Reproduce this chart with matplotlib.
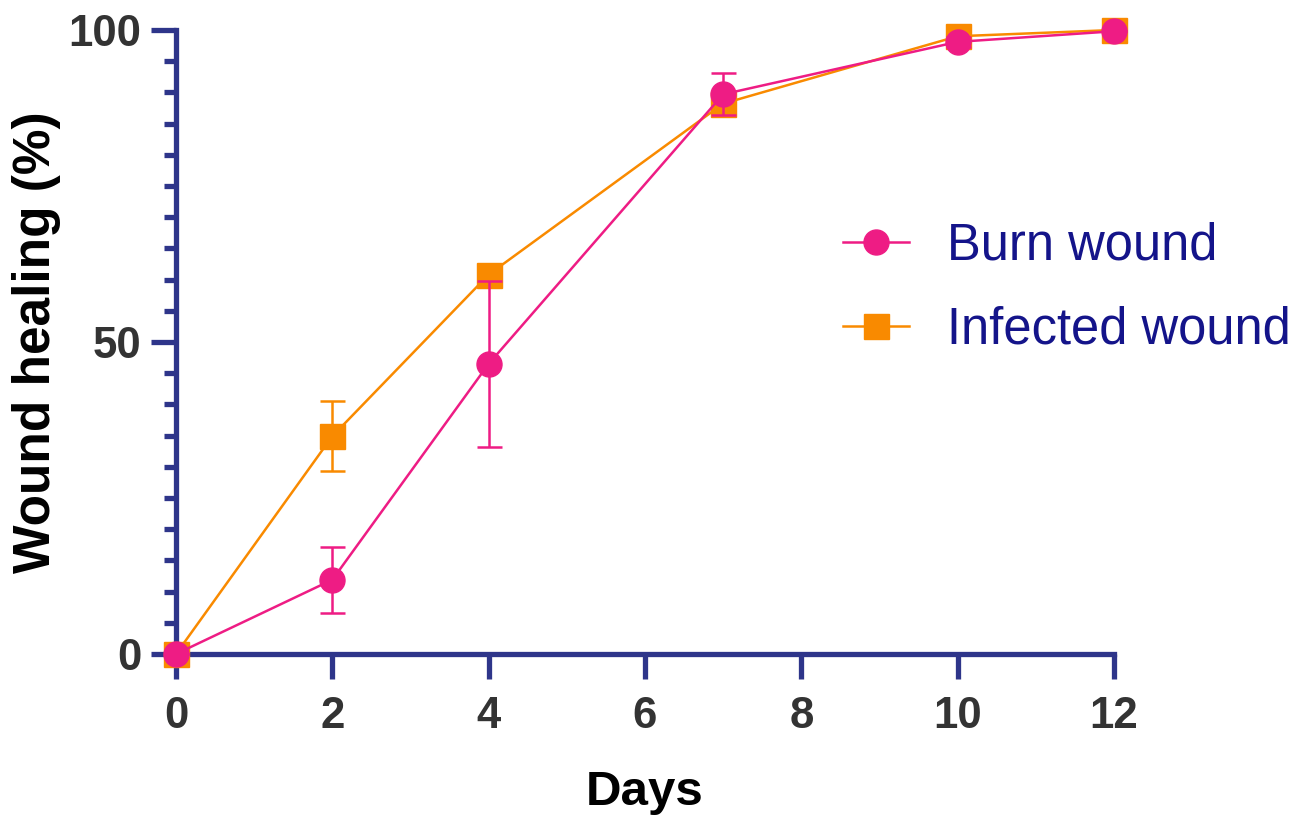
import matplotlib
matplotlib.use("Agg")
import matplotlib.pyplot as plt
from matplotlib.ticker import MultipleLocator, FixedLocator
from matplotlib.lines import Line2D

days = [0, 2, 4, 7, 10, 12]
burn_mean = [0, 11.9, 46.5, 89.7, 98.1, 99.8]
burn_err = [0, 5.3, 13.3, 3.4, 0.8, 0]
inf_mean = [0, 34.9, 60.8, 88.2, 99.0, 100]
inf_err = [0, 5.6, 1.0, 1.2, 0.5, 0]
series_labels = ["Burn wound", "Infected wound"]
x_ticks = [0, 2, 4, 6, 8, 10, 12]
y_ticks = [0, 50, 100]

PINK = "#EE1C84"
ORANGE = "#F98A00"
AXIS = "#2E358A"
TICKTXT = "#333333"
LEGTXT = "#14148A"

plt.rcParams['font.family'] = ['Liberation Sans', 'DejaVu Sans']

fig = plt.figure(figsize=(12.95, 8.15), dpi=100)
ax = fig.add_axes([176/1295, (815-654)/815, (1114-176)/1295, (654-30)/815])

ax.errorbar(days, inf_mean, yerr=inf_err, color=ORANGE, marker='s', markersize=18,
            lw=1.8, elinewidth=1.8, capsize=9, capthick=1.8, clip_on=False, zorder=3,
            label=series_labels[1])
ax.errorbar(days, burn_mean, yerr=burn_err, color=PINK, marker='o', markersize=18,
            lw=1.8, elinewidth=1.8, capsize=9, capthick=1.8, clip_on=False, zorder=4,
            label=series_labels[0])

ax.set_xlim(0, 12)
ax.set_ylim(0, 100)
for s in ['top', 'right']:
    ax.spines[s].set_visible(False)
for s in ['left', 'bottom']:
    ax.spines[s].set_color(AXIS)
    ax.spines[s].set_linewidth(3.8)
    ax.spines[s].set_capstyle('projecting')

ax.xaxis.set_major_locator(FixedLocator(x_ticks))
ax.yaxis.set_major_locator(FixedLocator(y_ticks))
ax.yaxis.set_minor_locator(MultipleLocator(5))
ax.tick_params(axis='both', which='major', direction='out', length=18, width=3.8,
               color=AXIS, labelsize=31.5, labelcolor=TICKTXT)
ax.tick_params(axis='x', which='major', pad=12)
ax.tick_params(axis='y', which='major', pad=7)
ax.tick_params(axis='y', which='minor', direction='out', length=9, width=3.8, color=AXIS)
for lab in ax.get_xticklabels() + ax.get_yticklabels():
    lab.set_fontweight('bold')

ax.set_xlabel("Days", fontsize=35.5, fontweight='bold', color='black', labelpad=24)
ax.set_ylabel("Wound healing (%)", fontsize=37, fontweight='bold', color='black', labelpad=5)

h = [Line2D([], [], color=PINK, marker='o', markersize=18, lw=1.8),
     Line2D([], [], color=ORANGE, marker='s', markersize=18, lw=1.8)]
leg = fig.legend(h, series_labels, loc='upper left', bbox_to_anchor=(843/1295, 1-222/815),
                 frameon=False, fontsize=36.5, handlelength=1.3, handletextpad=0.75,
                 labelspacing=0.68, borderpad=0, borderaxespad=0)
for t in leg.get_texts():
    t.set_color(LEGTXT)

fig.savefig("out.png", dpi=100)
